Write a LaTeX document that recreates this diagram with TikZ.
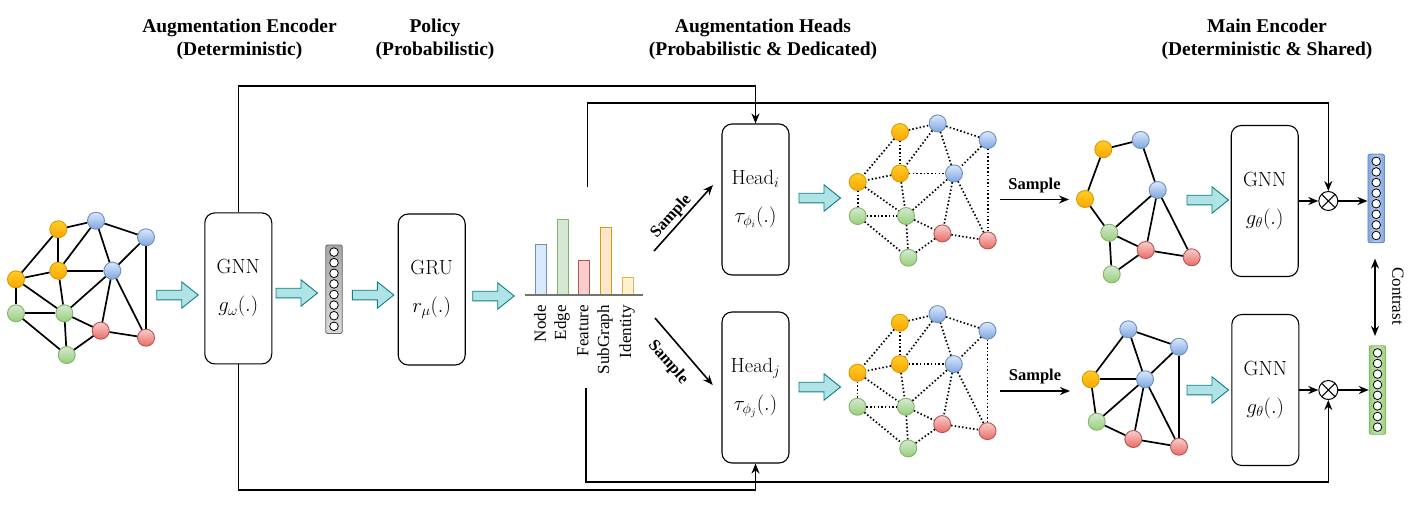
\documentclass[tikz,border=0pt]{standalone}
\usepackage{fontspec}
\newfontfamily\tnr{Liberation Serif}
\usetikzlibrary{arrows.meta,calc}
\definecolor{oFa}{HTML}{FFCD28}\definecolor{oFb}{HTML}{FFA500}\definecolor{oS}{HTML}{D79B00}
\definecolor{bFa}{HTML}{DAE8FC}\definecolor{bFb}{HTML}{7EA6E0}\definecolor{bS}{HTML}{6C8EBF}
\definecolor{gFa}{HTML}{D5E8D4}\definecolor{gFb}{HTML}{97D077}\definecolor{gS}{HTML}{82B366}
\definecolor{rFa}{HTML}{F8CECC}\definecolor{rFb}{HTML}{EA6B66}\definecolor{rS}{HTML}{B85450}
\definecolor{yF}{HTML}{FFF2CC}\definecolor{yS}{HTML}{D6B656}
\definecolor{pF}{HTML}{FFE6CC}
\definecolor{cyF}{HTML}{B0E3E6}\definecolor{cyS}{HTML}{0E8088}
\tikzset{
  gnode/.style={circle, inner sep=0pt, minimum size=17pt, line width=0.9pt},
  nodeO/.style={gnode, draw=oS, top color=oFa, bottom color=oFb},
  nodeB/.style={gnode, draw=bS, top color=bFa, bottom color=bFb},
  nodeG/.style={gnode, draw=gS, top color=gFa, bottom color=gFb},
  nodeR/.style={gnode, draw=rS, top color=rFa, bottom color=rFb},
  sedge/.style={line width=1.7pt},
  dedge/.style={line width=1.7pt, dash pattern=on 1.5pt off 2.2pt},
  rbox/.style={draw, rounded corners=10pt, line width=1.1pt, minimum width=67pt, minimum height=151pt, align=center, font=\fontsize{20.5}{38}\selectfont, inner sep=0pt},
  conn/.style={line width=1.6pt, -{Stealth[length=10pt,width=8pt]}},
  dblconn/.style={line width=1.6pt, {Stealth[length=10pt,width=8pt]}-{Stealth[length=10pt,width=8pt]}},
  vecbox/.style={draw, rounded corners=2pt, minimum width=16.5pt, minimum height=88.5pt, inner sep=0pt, line width=0.9pt},
  otimes/.style={circle, draw, minimum size=19pt, inner sep=0pt, line width=1pt, fill=white,
    path picture={\draw[line width=1pt] (path picture bounding box.north west) -- (path picture bounding box.south east) (path picture bounding box.south west) -- (path picture bounding box.north east);}},
  cyanarr/.pic={\draw[draw=cyS, fill=cyF, line width=0.9pt] (0,-4.8) -- (25,-4.8) -- (25,-13.2) -- (41.5,0) -- (25,13.2) -- (25,4.8) -- (0,4.8) -- cycle;},
  ttl/.style={font=\tnr\bfseries\fontsize{19.5}{23}\selectfont, align=center, anchor=north, inner sep=0pt},
  barlab/.style={font=\tnr\fontsize{17}{20}\selectfont, rotate=90, anchor=east, inner sep=0pt},
  samp/.style={font=\tnr\bfseries\fontsize{16.5}{20}\selectfont, inner sep=0pt},
  bar/.style={line width=1pt}
}
\def\fullnodes{o1/nodeO/58.3/229.3, b1/nodeB/96/220.7, b2/nodeB/146/237.3, o2/nodeO/58.3/270.7, b3/nodeB/112.3/270.7, o3/nodeO/16/279.3, g1/nodeG/16/313.3, g2/nodeG/64.3/313.3, r1/nodeR/100.7/330.7, r2/nodeR/146/337.7, g3/nodeG/66.7/355}
\def\fulledges{o1/b1, o1/o3, o1/o2, b1/o2, b1/b3, b1/b2, b2/b3, b2/r2, o2/b3, o2/o3, o3/g1, o3/g2, o2/g2, g1/g2, g1/g3, g2/b3, g2/r1, g2/g3, b3/r1, b3/r2, r1/r2, r1/g3}
\begin{document}
\begin{tikzpicture}[x=1pt,y=-1pt]
\useasboundingbox (0,0) rectangle (1410,512);
\fill[white] (0,0) rectangle (1410,512);

% titles
\node[ttl] (t1) at (239.5,18.5) {Augmentation Encoder\\(Deterministic)};
\node[ttl] (t2) at (435,18.5) {Policy\\(Probabilistic)};
\node[ttl] (t3) at (763,18.5) {Augmentation Heads\\(Probabilistic \& Dedicated)};
\node[ttl] (t4) at (1267,18.5) {Main Encoder\\(Deterministic \& Shared)};

% input graph
\foreach \n/\s/\x/\y in \fullnodes { \node[\s] (L\n) at (\x,\y) {}; }
\foreach \a/\b in \fulledges { \draw[sedge] (L\a) -- (L\b); }

% augmented (dotted) graphs
\begin{scope}[shift={(841.7,-97.3)}]
\foreach \n/\s/\x/\y in \fullnodes { \node[\s] (T\n) at (\x,\y) {}; }
\end{scope}
\foreach \a/\b in \fulledges { \draw[dedge] (T\a) -- (T\b); }
\begin{scope}[shift={(841.5,93.4)}]
\foreach \n/\s/\x/\y in \fullnodes { \node[\s] (B\n) at (\x,\y) {}; }
\end{scope}
\foreach \a/\b in \fulledges { \draw[dedge] (B\a) -- (B\b); }

% sampled graph (top)
\foreach \n/\s/\x/\y in {o1/nodeO/1103.3/149.3, b1/nodeB/1140.7/140, o3/nodeO/1085/199, b3/nodeB/1157.7/190, g2/nodeG/1109.3/232.7, r1/nodeR/1145.7/250, r2/nodeR/1191.7/257.3, g3/nodeG/1111.7/274.3} { \node[\s] (S\n) at (\x,\y) {}; }
\foreach \a/\b in {o1/b1, o1/o3, b1/b3, o3/g2, g2/b3, g2/r1, g2/g3, b3/r1, b3/r2, r1/r2, r1/g3} { \draw[sedge] (S\a) -- (S\b); }

% sampled graph (bottom)
\foreach \n/\s/\x/\y in {b1/nodeB/1128.3/329.3, b2/nodeB/1179/346.7, o2/nodeO/1090.7/379.3, b3/nodeB/1145/379.3, g2/nodeG/1096.7/421.7, r1/nodeR/1133.3/439, r2/nodeR/1179/446.7} { \node[\s] (U\n) at (\x,\y) {}; }
\foreach \a/\b in {b1/o2, b1/b3, b1/b2, b2/b3, b2/r2, o2/b3, o2/g2, g2/b3, g2/r1, b3/r1, b3/r2, r1/r2} { \draw[sedge] (U\a) -- (U\b); }

% boxes
\node[rbox] (gnnA) at (238.3,288.4) {GNN\\$g_\omega(.)$};
\node[rbox] (gru) at (431.7,289.5) {GRU\\$r_\mu(.)$};
\node[rbox] (headi) at (755.5,199.5) {Head$_i$\\$\tau_{\phi_i}(.)$};
\node[rbox] (headj) at (755.5,387.5) {Head$_j$\\$\tau_{\phi_j}(.)$};
\node[rbox] (gnnT) at (1264.7,201) {GNN\\$g_\theta(.)$};
\node[rbox] (gnnB) at (1265.3,390) {GNN\\$g_\theta(.)$};

% embedding vectors
\node[vecbox, draw=black!60, top color=black!35, bottom color=black!15] (vecG) at (334,289.2) {};
\node[vecbox, draw=bS, left color=bFb, right color=bFb, middle color=bFb!55] (vecT) at (1376.2,198.4) {};
\node[vecbox, draw=gS, left color=gFb, right color=gFb, middle color=gFb!55] (vecB) at (1377.5,390) {};
\foreach \v in {vecG,vecT,vecB}{
  \foreach \k in {0,...,7}{
    \draw[fill=white, line width=0.8pt] ($(\v.center)+(0,-37.1+10.6*\k)$) circle (4.3pt);
  }
}

% cyan block arrows
\foreach \px/\py in {156.7/295, 276/293, 352.3/295, 472.7/296, 799/198, 799/387, 1187/200, 1187/390}{
  \pic at (\px,\py) {cyanarr};
}

% bar chart
\filldraw[bar, fill=bFa, draw=bS] (535.7,244) rectangle (546.7,295);
\filldraw[bar, fill=gFa, draw=gS] (557.3,219) rectangle (568.3,295);
\filldraw[bar, fill=rFa, draw=rS] (578.3,260.7) rectangle (589.3,295);
\filldraw[bar, fill=pF, draw=oS] (600.7,227.3) rectangle (611.7,295);
\filldraw[bar, fill=yF, draw=yS] (622.7,277.7) rectangle (633.7,295);
\draw[black!55, line width=1.8pt] (525,295) -- (642.7,295);
\node[barlab] (lNode) at (540,305) {Node};
\node[barlab] (lEdge) at (562,305) {Edge};
\node[barlab] (lFeat) at (583,305) {Feature};
\node[barlab] (lSub) at (605,305) {SubGraph};
\node[barlab] (lId) at (627,305) {Identity};

% sample arrows to heads
\coordinate (sa1) at (654,251); \coordinate (sa2) at (713,185);
\draw[conn] (sa1) -- node[samp, sloped, above=1.8pt, pos=0.42] {Sample} (sa2);
\coordinate (sb1) at (655,318); \coordinate (sb2) at (712.7,385);
\draw[conn] (sb1) -- node[samp, sloped, below=10.8pt, pos=0.475] {Sample} (sb2);

% sample arrows between graphs
\coordinate (sc1) at (1000,199.5); \coordinate (sc2) at (1069,199.5);
\draw[conn] (sc1) -- node[samp, above=5.7pt] {Sample} (sc2);
\coordinate (sd1) at (1000,391); \coordinate (sd2) at (1070,391);
\draw[conn] (sd1) -- node[samp, above=5.7pt] {Sample} (sd2);

% combination and output
\node[otimes] (xT) at (1328.3,201) {};
\node[otimes] (xB) at (1328.3,390) {};
\draw[conn] (gnnT) -- (xT);
\draw[conn] (xT) -- (xT -| vecT.west);
\draw[conn] (gnnB) -- (xB);
\draw[conn] (xB) -- (xB -| vecB.west);

% feedback lines
\draw[conn] (gnnA.north) |- (headi.north |- 0,86) -- (headi.north);
\draw[conn] (gnnA.south) |- (headj.south |- 0,490) -- (headj.south);
\coordinate (fbT) at (587.3,186.7);
\coordinate (fbB) at (586,388);
\draw[conn] (fbT) |- (xT.north |- 0,102.7) -- (xT.north);
\draw[conn] (fbB) |- (xB.south |- 0,481.7) -- (xB.south);

% contrast
\draw[dblconn, shorten <=15.5pt, shorten >=9.3pt] ([xshift=-1.2pt]vecT.south) -- ([xshift=-2.5pt]vecB.north);
\node[font=\tnr\fontsize{17}{20}\selectfont, rotate=-90, inner sep=0pt] (con) at (1398,296) {Contrast};
\end{tikzpicture}
\end{document}
